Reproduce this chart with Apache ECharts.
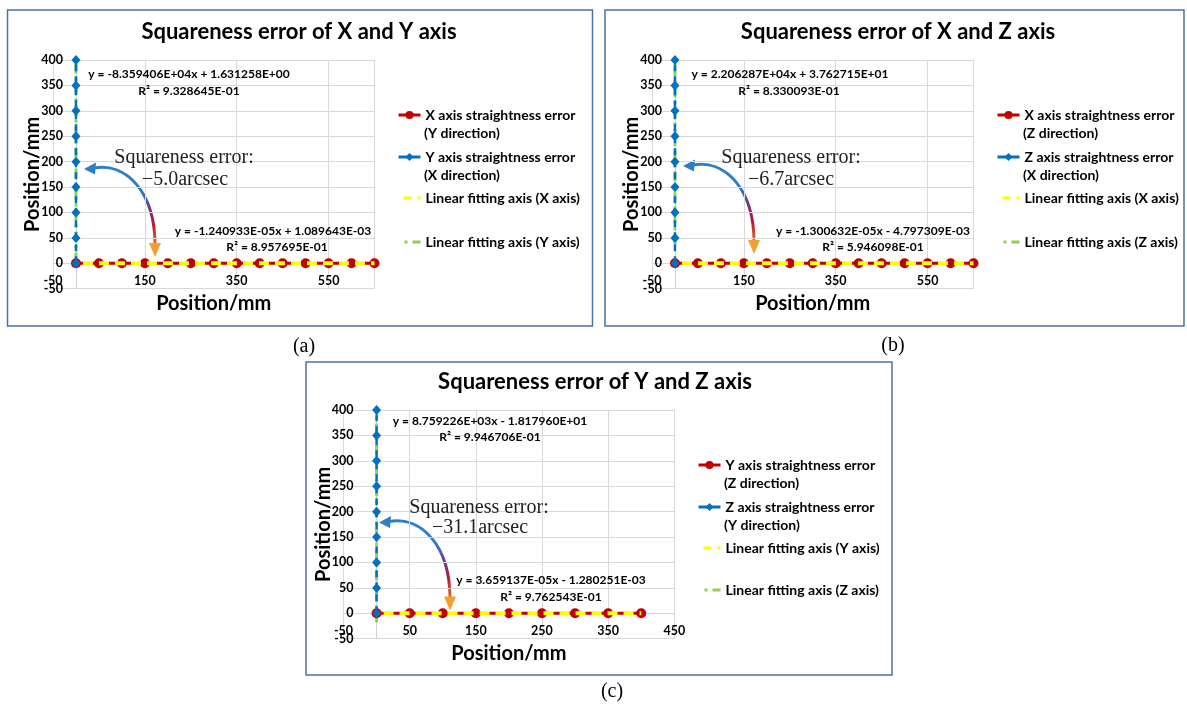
<!DOCTYPE html>
<html>
<head>
<meta charset="utf-8">
<script src="https://cdn.jsdelivr.net/npm/echarts@6/dist/echarts.min.js"></script>
<style>
  html, body { margin: 0; background: #fff; }
  #chart { width: 1187px; height: 708px; }
</style>
</head>
<body>
<div id="chart"></div>
<script>
// ---- data (a): X and Y axis ----
const xPosA = [0, 50, 100, 150, 200, 250, 300, 350, 400, 450, 500, 550, 600, 650];
const xErrA = [0.001, 0.002, 0.000, -0.001, -0.001, -0.003, -0.002, -0.004, -0.004, -0.005, -0.006, -0.005, -0.007, -0.007];
const yPosA = [0, 50, 100, 150, 200, 250, 300, 350, 400];
const yErrA = [0.000, -0.001, -0.001, -0.002, -0.002, -0.003, -0.004, -0.004, -0.005];
const fitHA = [[0, 0.0011], [650, -0.0070]];
const fitVA = [[0, 1.6], [-0.0048, 400]];

// ---- data (b): X and Z axis ----
const xPosB = [0, 50, 100, 150, 200, 250, 300, 350, 400, 450, 500, 550, 600, 650];
const xErrB = [-0.004, -0.006, -0.005, -0.007, -0.008, -0.007, -0.009, -0.009, -0.010, -0.011, -0.010, -0.012, -0.013, -0.013];
const zPosB = [0, 50, 100, 150, 200, 250, 300, 350, 400];
const zErrB = [-0.002, 0.001, 0.003, 0.004, 0.007, 0.009, 0.011, 0.014, 0.016];
const fitHB = [[0, -0.0048], [650, -0.0132]];
const fitVB = [[0, 37.6], [0.0164, 400]];

// ---- data (c): Y and Z axis ----
const yPosC = [0, 50, 100, 150, 200, 250, 300, 350, 400];
const yErrC = [-0.001, 0.001, 0.002, 0.004, 0.006, 0.008, 0.009, 0.011, 0.013];
const zPosC = [0, 50, 100, 150, 200, 250, 300, 350, 400];
const zErrC = [0.002, 0.008, 0.013, 0.019, 0.025, 0.031, 0.036, 0.042, 0.048];
const fitHC = [[0, -0.0013], [400, 0.0134]];
const fitVC = [[0, -18.2], [0.0477, 400]];

// ---- texts ----
const titles = ['Squareness error of X and Y axis', 'Squareness error of X and Z axis', 'Squareness error of Y and Z axis'];
const legendNames = [
  ['X axis straightness error\n(Y direction)', 'Y axis straightness error\n(X direction)', 'Linear fitting axis (X axis)', 'Linear fitting axis (Y axis)'],
  ['X axis straightness error\n(Z direction)', 'Z axis straightness error\n(X direction)', 'Linear fitting axis (X axis)', 'Linear fitting axis (Z axis)'],
  ['Y axis straightness error\n(Z direction)', 'Z axis straightness error\n(Y direction)', 'Linear fitting axis (Y axis)', 'Linear fitting axis (Z axis)']
];
const equations = [
  ['y = -8.359406E+04x + 1.631258E+00', 'R² = 9.328645E-01', 'y = -1.240933E-05x + 1.089643E-03', 'R² = 8.957695E-01'],
  ['y = 2.206287E+04x + 3.762715E+01', 'R² = 8.330093E-01', 'y = -1.300632E-05x - 4.797309E-03', 'R² = 5.946098E-01'],
  ['y = 8.759226E+03x - 1.817960E+01', 'R² = 9.946706E-01', 'y = 3.659137E-05x - 1.280251E-03', 'R² = 9.762543E-01']
];
const squareness = ['−5.0arcsec', '−6.7arcsec', '−31.1arcsec'];
const panelLabels = ['(a)', '(b)', '(c)'];

const FONT = 'Lato';
const RED = '#c00000', BLUE = '#0070c0', YELLOW = '#ffff00', GREEN = '#92d050';
const LEGEND_FONT = 14;

// layout of each panel
const panels = [
  {
    grid: { left: 53, top: 60, width: 321.5, height: 228.7 }, xMax: 650, xStep: 200,
    h: [xPosA, xErrA], v: [yPosA, yErrA], fitH: fitHA, fitV: fitVA,
    border: [7.5, 10, 585, 316], title: [299, 21], label: [304, 347],
    eq: [[189, 74], [189, 91], [273, 231], [277, 247]], sq: [[184, 158], [185, 180]],
    arrow: [0, 0], legendLeft: 397, legendY: [115, 157, 198, 242]
  },
  {
    grid: { left: 652, top: 60, width: 321.5, height: 228.7 }, xMax: 650, xStep: 200,
    h: [xPosB, xErrB], v: [zPosB, zErrB], fitH: fitHB, fitV: fitVB,
    border: [605, 10, 579, 316], title: [898, 21], label: [893, 346],
    eq: [[790, 74], [789, 91], [873, 231], [873, 247]], sq: [[791, 158], [791, 180]],
    arrow: [599, -3], legendLeft: 996, legendY: [115, 157, 198, 242]
  },
  {
    grid: { left: 343.5, top: 410, width: 330.8, height: 228.7 }, xMax: 450, xStep: 100,
    h: [yPosC, yErrC], v: [zPosC, zErrC], fitH: fitHC, fitV: fitVC,
    border: [306, 362, 586, 313], title: [595, 371], label: [612, 692],
    eq: [[490, 421], [490, 437], [551, 580], [551, 597]], sq: [[479, 508], [480, 528]],
    arrow: [295, 353.5], legendLeft: 697, legendY: [465, 507, 548, 590]
  }
];

const option = {
  animation: false,
  backgroundColor: '#fff',
  title: [], grid: [], xAxis: [], yAxis: [], series: [], legend: [], graphic: []
};

function arrow(dx, dy) {
  return {
    type: 'group', x: dx, y: dy, silent: true,
    children: [
      {
        type: 'bezierCurve',
        shape: { x1: 94, y1: 168, cpx1: 126, cpy1: 162, cpx2: 155, cpy2: 192, x2: 155, y2: 245 },
        style: {
          fill: 'none', lineWidth: 3,
          stroke: {
            type: 'linear', x: 0, y: 169, x2: 0, y2: 255, global: true,
            colorStops: [
              { offset: 0, color: '#2e7fc1' }, { offset: 0.25, color: '#2e7fc1' },
              { offset: 0.45, color: '#6a3a8a' }, { offset: 0.65, color: '#c0142a' },
              { offset: 1, color: '#f2a033' }
            ]
          }
        }
      },
      { type: 'polygon', shape: { points: [[84, 169], [96, 162.5], [95, 174.5]] }, style: { fill: '#2e7fc1' } },
      { type: 'polygon', shape: { points: [[155, 257], [149, 243], [161, 243]] }, style: { fill: '#f2a033' } }
    ]
  };
}

const legendIconStyles = [
  { type: 'solid', width: 3 },
  { type: 'solid', width: 3 },
  { type: [8, 6], width: 3 },
  { type: [9, 6, 3, 5], width: 3 }
];

panels.forEach((p, i) => {
  const key = 'p' + i;
  option.title.push({
    text: titles[i], left: p.title[0], top: p.title[1], textAlign: 'center', padding: 0,
    textStyle: { fontFamily: FONT, fontWeight: 'bold', fontSize: 22, color: '#000' }
  });
  option.grid.push(Object.assign({ containLabel: false }, p.grid));
  option.xAxis.push({
    type: 'value', gridIndex: i, min: -50, max: p.xMax, interval: p.xStep,
    name: 'Position/mm', nameLocation: 'middle', nameGap: 5,
    nameTextStyle: { fontFamily: FONT, fontWeight: 'bold', fontSize: 20, color: '#000', verticalAlign: 'top' },
    axisLine: { show: false, onZero: false },
    axisTick: { show: false },
    axisLabel: { inside: true, margin: 1, showMaxLabel: p.xMax === 450, fontFamily: FONT, fontWeight: 'bold', fontSize: 12.5, color: '#000' },
    splitLine: { show: true, lineStyle: { color: '#d9d9d9', width: 1 } }
  });
  option.yAxis.push({
    type: 'value', gridIndex: i, min: -50, max: 400, interval: 50,
    name: 'Position/mm', nameLocation: 'middle', nameGap: 10, nameMoveOverlap: false,
    nameTextStyle: { fontFamily: FONT, fontWeight: 'bold', fontSize: 20, color: '#000' },
    axisLine: { show: false, onZero: false },
    axisTick: { show: false },
    axisLabel: { inside: true, align: 'right', margin: 10, fontFamily: FONT, fontWeight: 'bold', fontSize: 12.5, color: '#000' },
    splitLine: { show: true, lineStyle: { color: '#d9d9d9', width: 1 } }
  });

  const names = legendNames[i].map((n, k) => key + '_' + k);
  option.series.push(
    {
      type: 'line', name: names[0], xAxisIndex: i, yAxisIndex: i, z: 2,
      data: p.h[0].map((x, k) => [x, p.h[1][k]]),
      symbol: 'circle', symbolSize: 10, itemStyle: { color: RED },
      lineStyle: { color: RED, width: 3, type: [10, 6] },
      // vertical axis line at x = 0
      markLine: {
        silent: true, symbol: 'none', label: { show: false }, z: 1,
        lineStyle: { color: '#d0d0d0', width: 1, type: 'solid' },
        data: [{ xAxis: 0 }]
      }
    },
    {
      type: 'line', name: names[1], xAxisIndex: i, yAxisIndex: i, z: 4,
      data: p.v[0].map((y, k) => [p.v[1][k], y]),
      symbol: 'diamond', symbolSize: [9, 10], itemStyle: { color: BLUE },
      lineStyle: { color: BLUE, width: 2.5, type: [7, 5] }
    },
    {
      type: 'line', name: names[2], xAxisIndex: i, yAxisIndex: i, z: 3,
      data: p.fitH, symbol: 'none', itemStyle: { color: YELLOW },
      lineStyle: { color: YELLOW, width: 4, type: [10, 6], dashOffset: 9 }
    },
    {
      type: 'line', name: names[3], xAxisIndex: i, yAxisIndex: i, z: 2,
      data: p.fitV, symbol: 'none', itemStyle: { color: GREEN },
      lineStyle: { color: GREEN, width: 3, type: [10, 4, 3, 4] }
    }
  );

  legendNames[i].forEach((text, k) => {
    const lines = text.split('\n');
    const item = { name: names[k], lineStyle: legendIconStyles[k] };
    if (k >= 2) item.itemStyle = { opacity: 0 };
    option.legend.push({
      left: p.legendLeft, top: p.legendY[k] - 9, padding: 0,
      itemWidth: 22, itemHeight: 10, selectedMode: false,
      data: [item], formatter: () => lines[0],
      textStyle: { fontFamily: FONT, fontWeight: 'bold', fontSize: LEGEND_FONT, color: '#000', lineHeight: 18 }
    });
    if (lines[1]) {
      option.graphic.push({
        type: 'text', silent: true,
        style: {
          text: lines[1], x: p.legendLeft + 27, y: p.legendY[k] + 18, align: 'left', verticalAlign: 'middle',
          font: 'bold ' + LEGEND_FONT + 'px ' + FONT, fill: '#000'
        }
      });
    }
  });

  const b = p.border;
  option.graphic.push({
    type: 'rect', silent: true, z: -1,
    shape: { x: b[0], y: b[1], width: b[2], height: b[3] },
    style: { fill: 'none', stroke: '#4a72ab', lineWidth: 1.5 }
  });
  option.graphic.push({
    type: 'text', silent: true,
    style: { text: panelLabels[i], x: p.label[0], y: p.label[1], align: 'center', verticalAlign: 'middle', font: '20px "Liberation Serif"', fill: '#000' }
  });
  equations[i].forEach((t, k) => {
    option.graphic.push({
      type: 'text', silent: true, z: 10,
      style: { text: t, x: p.eq[k][0], y: p.eq[k][1], align: 'center', verticalAlign: 'middle', font: 'bold 12px ' + FONT, fill: '#000' }
    });
  });
  ['Squareness error:', squareness[i]].forEach((t, k) => {
    option.graphic.push({
      type: 'text', silent: true, z: 10,
      style: { text: t, x: p.sq[k][0], y: p.sq[k][1], align: 'center', verticalAlign: 'middle', font: '20px "Liberation Serif"', fill: '#222' }
    });
  });
  option.graphic.push(arrow(p.arrow[0], p.arrow[1]));
});

const chart = echarts.init(document.getElementById('chart'));
chart.setOption(option);
window.addEventListener('resize', () => chart.resize());
</script>
</body>
</html>
